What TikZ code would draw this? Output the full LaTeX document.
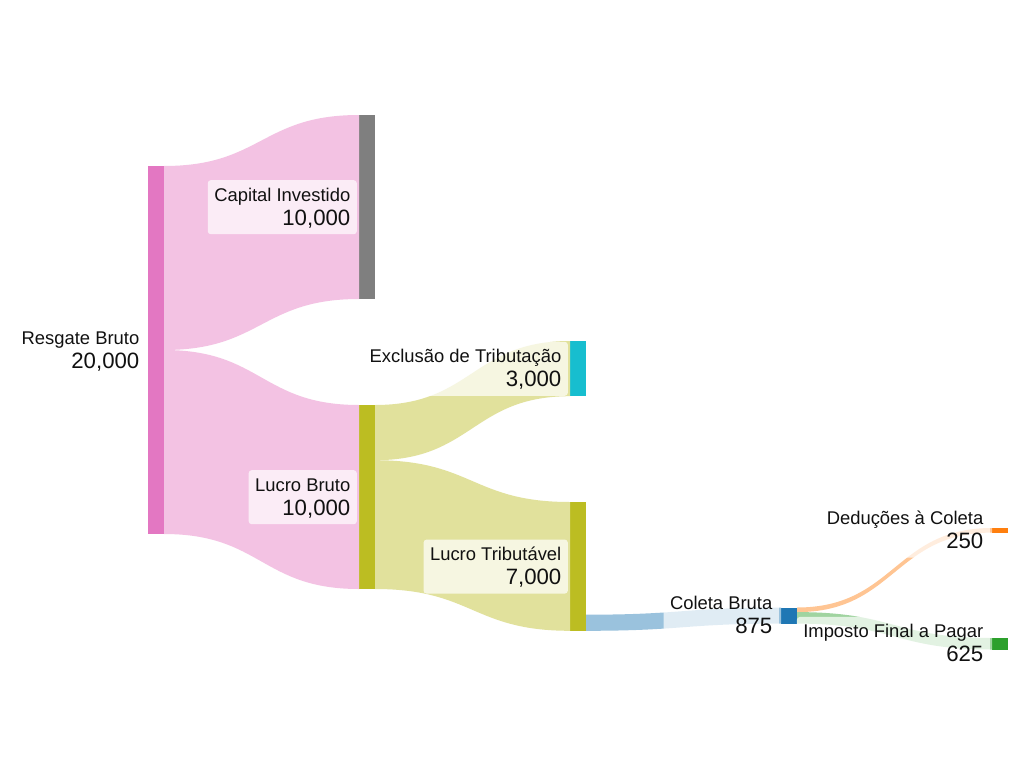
\documentclass[tikz,border=0pt]{standalone}
\usepackage{fontspec}
\setmainfont{Liberation Sans}
\usetikzlibrary{calc}
\definecolor{cpink}{HTML}{E377C2}
\definecolor{cgray}{HTML}{7F7F7F}
\definecolor{colive}{HTML}{BCBD22}
\definecolor{ccyan}{HTML}{17BECF}
\definecolor{cblue}{HTML}{1F77B4}
\definecolor{corange}{HTML}{FF7F0E}
\definecolor{cgreen}{HTML}{2CA02C}
\definecolor{ctext}{HTML}{111111}
\tikzset{
  sknode/.style={rectangle, draw=none, inner sep=0pt, minimum width=15.6pt, anchor=north west},
  sklbl/.style={rectangle, rounded corners=3pt, fill=white, fill opacity=0.7, text opacity=1,
    inner xsep=6.5pt, inner ysep=4pt, align=right, anchor=east,
    font=\fontsize{18.4}{24}\selectfont, text=ctext},
}
\newcommand\sklink[7]{%
  \fill[#1] let \p1=($(#2.north east)+(0,#3)$), \p2=($(#2.north east)+(0,#4)$),
    \p3=($(#5.north west)+(0,#6)$), \p4=($(#5.north west)+(0,#7)$) in
    (\p1) .. controls ({(\x1+\x3)/2},\y1) and ({(\x1+\x3)/2},\y3) .. (\p3)
    -- (\p4) .. controls ({(\x1+\x3)/2},\y4) and ({(\x1+\x3)/2},\y2) .. (\p2) -- cycle;}
\newcommand\sktxt[2]{#1\rule{0pt}{17pt}\\{\fontsize{22.2}{24}\selectfont #2\rule[-5pt]{0pt}{5pt}}}
\begin{document}
\begin{tikzpicture}[x=1pt, y=-1pt]
\useasboundingbox (0,0) rectangle (1024,768);
\fill[white] (0,0) rectangle (1024,768);
% nodes
\node[sknode, fill=cpink, minimum height=368pt] (rb) at (148,166) {};
\node[sknode, fill=cgray, minimum height=184pt] (ci) at (359,115) {};
\node[sknode, fill=colive, minimum height=184pt] (lb) at (359,405) {};
\node[sknode, fill=ccyan, minimum height=55.2pt] (ex) at (570,341) {};
\node[sknode, fill=colive, minimum height=128.8pt] (lt) at (570,502) {};
\node[sknode, fill=cblue, minimum height=16.1pt] (cb) at (781,607.5) {};
\node[sknode, fill=corange, minimum height=4.6pt] (de) at (992,528) {};
\node[sknode, fill=cgreen, minimum height=11.5pt] (im) at (992,638) {};
% links
\sklink{cpink!45}{rb}{0}{184}{ci}{0}{184}
\sklink{cpink!45}{rb}{184}{368}{lb}{0}{184}
\sklink{colive!45}{lb}{0}{55.2}{ex}{0}{55.2}
\sklink{colive!45}{lb}{55.2}{184}{lt}{0}{128.8}
\sklink{cblue!45}{lt}{112.7}{128.8}{cb}{0}{16.1}
\sklink{corange!45}{cb}{0}{4.6}{de}{0}{4.6}
\sklink{cgreen!45}{cb}{4.6}{16.1}{im}{0}{11.5}
% labels
\node[sklbl] (rbl) at ([xshift=-2pt]rb.west) {\sktxt{Resgate Bruto}{20,000}};
\node[sklbl] (cil) at ([xshift=-2pt]ci.west) {\sktxt{Capital Investido}{10,000}};
\node[sklbl] (lbl) at ([xshift=-2pt]lb.west) {\sktxt{Lucro Bruto}{10,000}};
\node[sklbl] (exl) at ([xshift=-2pt]ex.west) {\sktxt{Exclusão de Tributação}{3,000}};
\node[sklbl] (ltl) at ([xshift=-2pt]lt.west) {\sktxt{Lucro Tributável}{7,000}};
\node[sklbl] (cbl) at ([xshift=-2pt]cb.west) {\sktxt{Coleta Bruta}{875}};
\node[sklbl] (del) at ([xshift=-2pt]de.west) {\sktxt{Deduções à Coleta}{250}};
\node[sklbl] (iml) at ([xshift=-2pt]im.west) {\sktxt{Imposto Final a Pagar}{625}};
\end{tikzpicture}
\end{document}
